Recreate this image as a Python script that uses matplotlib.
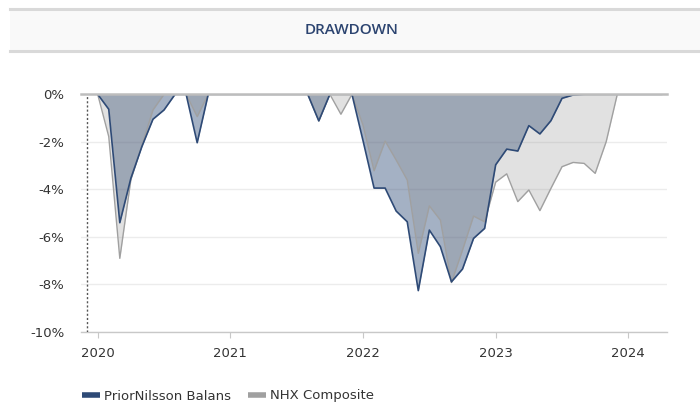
import numpy as np
import matplotlib
matplotlib.use('Agg')
import matplotlib.pyplot as plt
from matplotlib.lines import Line2D
from matplotlib.patches import Rectangle

# monthly drawdown (%), Jan 2020 .. Apr 2024
months = np.arange(52)
balans = [
    0, -0.63, -5.41, -3.54, -2.20, -1.05, -0.66, 0, 0, -2.04, 0, 0,
    0, 0, 0, 0, 0, 0, 0, 0, -1.12, 0, 0, 0,
    -1.95, -3.95, -3.95, -4.92, -5.37, -8.27, -5.72, -6.42, -7.90, -7.36, -6.07, -5.65,
    -2.97, -2.31, -2.39, -1.32, -1.67, -1.11, -0.17, -0.03, 0, 0, 0, 0,
    0, 0, 0, 0,
]
nhx = [
    0, -1.78, -6.91, -3.60, -2.15, -0.66, 0, 0, 0, -0.94, 0, 0,
    0, 0, 0, 0, 0, 0, 0, 0, -1.12, 0, -0.84, 0,
    -1.30, -3.22, -1.97, -2.77, -3.61, -6.70, -4.70, -5.30, -7.93, -6.56, -5.13, -5.37,
    -3.70, -3.35, -4.52, -4.03, -4.90, -3.96, -3.05, -2.87, -2.91, -3.33, -1.99, 0,
    0, 0, 0, 0,
]
year_pos = [0, 12, 24, 36, 48]
year_labels = ['2020', '2021', '2022', '2023', '2024']
y_ticks = [0, -2, -4, -6, -8, -10]

BLUE = '#2e4a76'
GRAY = '#a0a0a0'

fig = plt.figure(figsize=(7, 4.05), dpi=100)

# header band
fig.patches.append(Rectangle((10 / 700, 1 - 51 / 405), 690 / 700, 42 / 405,
                             transform=fig.transFigure, facecolor='#f9f9f9',
                             edgecolor='none', zorder=0))
for yy in (9, 51):
    fig.add_artist(Line2D([10 / 700, 1], [1 - yy / 405] * 2, color='#d9d9d9', lw=2.2))
fig.text(351.5 / 700, 1 - 30 / 405, 'DRAWDOWN', ha='center', va='center',
         fontsize=11, color='#2c4470', family='Open Sans', weight='semibold')

ax = fig.add_axes([81 / 700, 1 - 331.7 / 405, (666.7 - 81) / 700, (331.7 - 94.3) / 405])

ax.fill_between(months, 0, balans, color=BLUE, alpha=0.43, lw=0, zorder=2)
ax.fill_between(months, 0, nhx, color='#8a8a8a', alpha=0.25, lw=0, zorder=3)
ax.plot(months, nhx, color=GRAY, lw=1.0, zorder=4)
ax.plot(months, balans, color=BLUE, lw=1.2, zorder=5)
# zero line on top
ax.axhline(0, color='#bdbdbd', lw=1.8, zorder=7, clip_on=False)

ax.axvline(-1, color='#555555', ls=(0, (1.5, 1.5)), lw=1.0, zorder=6)

ax.set_xlim(-1.51, 51.47)
ax.set_ylim(-10, 0)
ax.set_yticks(y_ticks)
ax.set_yticklabels([f'{v}%' for v in y_ticks])
ax.set_xticks(year_pos)
ax.set_xticklabels(year_labels)
ax.grid(axis='y', color='#ececec', lw=1, zorder=1)
ax.set_axisbelow(True)

for s in ('top', 'right', 'left'):
    ax.spines[s].set_visible(False)
ax.spines['bottom'].set_color('#c8c8c8')
ax.spines['bottom'].set_linewidth(1)

ax.tick_params(axis='y', length=0, pad=12, labelsize=9.5, labelcolor='#333333')
ax.tick_params(axis='x', length=4, color='#c8c8c8', pad=7, labelsize=9.5, labelcolor='#333333')

handles = [Line2D([], [], color=BLUE, lw=4, solid_capstyle='butt'),
           Line2D([], [], color=GRAY, lw=4, solid_capstyle='butt')]
fig.legend(handles, ['PriorNilsson Balans', 'NHX Composite'], loc='center left',
           bbox_to_anchor=(70 / 700, 1 - 396 / 405), ncol=2, frameon=False, fontsize=9.5,
           handlelength=1.4, handletextpad=0.25, columnspacing=1.3,
           labelcolor='#333333')

fig.savefig('out.png', dpi=100, facecolor='white')
